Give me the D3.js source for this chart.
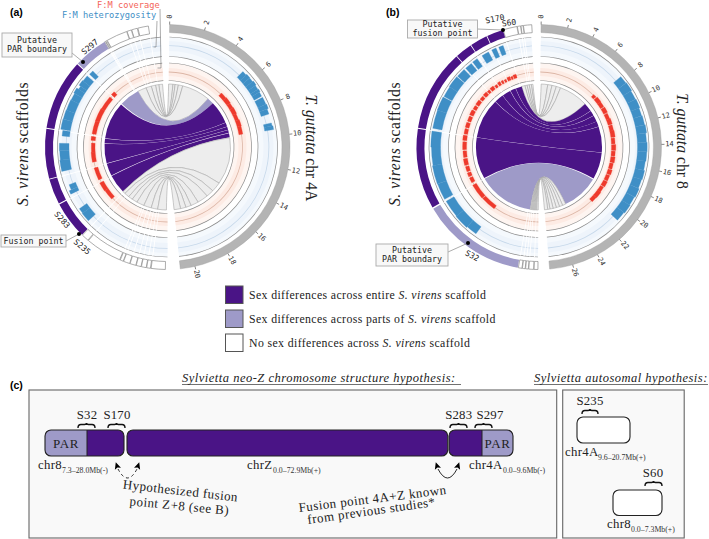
<!DOCTYPE html>
<html><head><meta charset="utf-8">
<style>html,body{margin:0;padding:0;background:#fff}svg{display:block}</style>
<script src="https://cdn.jsdelivr.net/npm/d3@7"></script></head>
<body><svg id="c" width="709" height="539" xmlns="http://www.w3.org/2000/svg"></svg>
<script>
// ---------- panel (a) : T. guttata chr 4A vs S. virens ----------
// right side positions in Mb; left side positions in assembly units; class 0 none, 1 parts, 2 entire
const chrLenA = 20.84;
const ticksA = [0,2,4,6,8,10,12,14,16,18,20];
const scaffoldsA = [[9,14,0],[14.3,17,0],[17.2,19.3,0],[19.5,29.5,0],[29.8,30.3,0],[30.5,31,0],[31,47,1],[47.5,81,2],[81.4,105,2],[105.4,117.5,2],[118,135.7,2],[136,139.5,0],[139.8,157,0],[157.3,158.8,0],[159,162,0],[162.2,165,0],[165.2,167.5,0],[167.7,170,0],[170.2,172,0],[172.3,179,0]];
const hetRightA = [[5.3,5.6,.7],[5.6,5.9,.85],[5.9,6.2,.8],[6.2,6.5,.95],[6.5,6.8,.8],[6.8,7.0,.9],[7.0,7.3,.75],[7.4,7.9,.8],[7.9,8.2,.9],[8.2,8.55,.7],[9.15,9.35,.7],[9.35,9.6,.85]];
const hetLeftA = [[44.5,47,.7],[48.5,52,.8],[52,55,.9],[55,57,.6],[57,60,.95],[60,64,.8],[64,70,.85],[70,75,.9],[75,80.5,.95],[81,84,.6],[88,92,.95],[92,97,.9],[97,103,1],[111,114,.5],[114,116,.85],[125,128,.85],[128,133,.95]];
const covRightA = [[5.3,5.9,.9],[5.9,6.5,1],[6.5,7,.9],[7,7.6,1],[7.6,8.2,.85],[8.2,8.8,1],[8.8,9.55,.9]];
const covLeftA = [[44,47,1],[49,60,.9],[60,70,1],[70,80,.95],[82,85,1],[87,94,.85],[94,101.5,.95],[106,115.6,.9],[118,125,1],[125,133,.9]];
const ribbonsA = [
 [0,.48,4.5,8,3],[.48,.72,8,11,3],[.72,1.08,11,15,3],[1.08,1.57,15,20,3],[1.57,4.7,20,28,3],
 [4.7,5.42,28,46.6,1],
 [5.42,7.95,47.5,82,2],[7.99,8.43,82.4,86.7,2],[8.47,8.8,87.1,105,2],[8.83,9.16,105.4,117,2],[9.19,9.64,117.4,135,2],
 [9.7,14.94,135,137.5,3],[14.94,16.02,137.5,142,3],[16.02,16.87,142,146,3],[16.87,18.07,146,151,3],[18.07,18.92,151,158,3],[18.92,19.52,158,165,3],[19.52,20.12,165,171,3],[20.12,20.84,171,179,3]];

// ---------- panel (b) : T. guttata chr 8 vs S. virens ----------
const chrLenB = 27.75;
const ticksB = [0,2,4,6,8,10,12,14,16,18,20,22,24,26];
const scaffoldsB = [[3.4,7.3,0],[7.5,8.5,0],[8.7,10.2,0],[10.4,17,0],[17.2,25,2],[25.4,33.6,2],[34,42,2],[42.4,81,2],[81.4,119.6,2],[120.3,170,1],[170.3,172,0],[172.2,173.5,0],[173.7,175,0],[175.2,177.5,0],[177.7,179.5,0]];
const hetRightB = [[7.7,8.4,.9],[8.4,9.2,1],[9.2,10,.85],[10,10.8,.95],[10.8,11.5,.8],[11.5,12.3,.9],[12.3,13,1],[13,13.8,.85],[13.8,14.6,.95],[14.6,15.4,.9],[15.4,16.2,.8],[16.2,17,.95],[17,17.8,.85],[17.8,18.6,1],[18.6,19.4,.85],[19.4,20.2,.95],[20.2,21.05,.8]];
const hetLeftB = [[19.5,22,.85],[23.5,26,.9],[28,32,.85],[35,38,.9],[39,43,.85],[44,49,.9],[49.5,56,.95],[56,62,.85],[62.5,70,.95],[70,80,.9],[81.5,90,.95],[90,100,.85],[100,110,.95],[110,119,.9],[120.3,130,.85],[130,138,.95],[138,144,.8]];
const covRightB = [[7.2,7.6,.8],[7.7,8.4,1],[8.4,9.1,.9],[9.2,9.9,1],[10,10.7,.85],[10.7,11.4,1],[11.5,12.2,.9],[12.2,13,1],[13.1,13.8,.85],[13.9,14.6,1],[14.7,15.3,.9],[15.4,16.1,1],[16.2,16.9,.85],[17,17.6,1],[17.7,18.4,.9],[18.5,19.2,1],[19.3,20,.85],[20,20.8,1],[20.8,21.5,.9]];
const covLeftB = [[17.5,20,.9],[20.6,22,.7],[22.6,25,.9],[26,27.5,.7],[28.5,30,.8],[31,33,.9],[34,36,.7],[37,40,.9],[41,43,.8],[43.8,47,.9],[48,51,.8],[52,56,.9],[57,60,.85],[61,65,.95],[66,70,.85],[71,75,.9],[76,80,.85],[81,85,.95],[86,92,.9],[93,98,.85],[99,104,.95],[105,109,.85],[110,113,.9],[114,118,.85],[120,132,.95],[132.5,144,.9]];
const ribbonsB = [
 [.16,1.12,5.5,7,3],[1.12,1.75,7,9,3],[1.75,2.39,9,11,3],[2.39,3.03,11,13,3],[3.03,7.34,13,16,3],
 [7.34,8.61,16,21.6,2],[8.64,9.41,21.9,27,2],[9.44,10.37,27.3,35,2],[10.4,11.16,35.3,43.7,2],[11.2,14.99,44,81,2],[15.04,18.98,81.3,119.6,2],
 [19.14,24.56,120.3,172,1],
 [24.56,25.04,172,173,3],[25.04,25.52,173,174,3],[25.52,26,174,175,3],[26,26.48,175,176,3],[26.48,26.95,176,177,3],[26.95,27.27,177,178,3],[27.27,27.75,178,179.3,3]];

// ---------- panel (c) schematic ----------
const diagramBars = [
 {start:45,end:124,row:0,split:87,side:"left"},
 {start:127,end:447.7,row:0,split:null,side:null},
 {start:449,end:513,row:0,split:482,side:"right"},
 {start:577,end:630,row:1,split:null,side:null},
 {start:613,end:662,row:2,split:null,side:null}];
const braceSpec = [["S32",78,95,0,87],["S170",108,125,0,117],["S283",450,467,0,458.7],["S297",475,492,0,490],["S235",582,598,1,590],["S60",645,662,2,653]];
const legendItems = [["Sex differences across entire ","S. virens"," scaffold",2],["Sex differences across parts of ","S. virens"," scaffold",1],["No sex differences across ","S. virens"," scaffold",0]];

const colors = {2:"#4a1486",1:"#9e9ac8",0:"#ffffff",3:"#ededed"};
const blue="#3f8fc6", red="#ee3a2c";
const mono="'DejaVu Sans Mono',monospace", serif="'Liberation Serif',serif", sans="'Liberation Sans',Arial,sans-serif";
const svg=d3.select("#c");
const rad=d=>d*Math.PI/180;
const arcGen=d3.arc();

function polar(deg,r,cx,cy){return [cx+r*Math.sin(rad(deg)),cy-r*Math.cos(rad(deg))];}

function panel(o){
 const g=svg.append("g").attr("transform",`translate(${o.cx},${o.cy})`);
 const R=d3.scaleLinear().domain([0,o.len]).range(o.rRange);       // Mb -> deg clockwise
 const L=d3.scaleLinear().domain([0,360]).range([360,0]);          // units -> deg (ccw from top)
 const ar=(a0,a1,r0,r1)=>arcGen({innerRadius:r0,outerRadius:r1,startAngle:rad(a0),endAngle:rad(a1)});
 const leftSpan=[L(o.lRange[1]),L(o.lRange[0])], rightSpan=o.rRange;
 // backgrounds
 [rightSpan,leftSpan].forEach(s=>{
  g.append("path").attr("d",ar(s[0],s[1],90.5,110)).attr("fill","#f5f9fd");
  g.append("path").attr("d",ar(s[0],s[1],96,106)).attr("fill","#eef4fb");
  g.append("path").attr("d",ar(s[0],s[1],66.5,84)).attr("fill","#fef5f1");
  g.append("path").attr("d",ar(s[0],s[1],71,79)).attr("fill","#fdebe4");
  [110,90.5,84,66.5].forEach(r=>g.append("path").attr("d",ar(s[0],s[1],r-.35,r+.35)).attr("fill","#8c8c8c"));
  g.append("path").attr("d",ar(s[0],s[1],101,101.8)).attr("fill","#c6d8ea");
  g.append("path").attr("d",ar(s[0],s[1],74.6,75.4)).attr("fill","#dcb6a6");
 });
 // white cuts between scaffolds through tracks
 o.scaffolds.forEach(d=>{g.append("path").attr("d",ar(L(d[0])-.25,L(d[0])+.25,66,110)).attr("fill","#fff");});
 // chr ring
 g.append("path").attr("d",ar(rightSpan[0],rightSpan[1],114.5,122.5)).attr("fill","#b4b4b4").attr("stroke","#999").attr("stroke-width",.4);
 o.ticks.forEach(t=>{
  const a=R(t),p0=polar(a,122.5,0,0),p1=polar(a,125.5,0,0),p2=polar(a,130.5,0,0);
  g.append("line").attr("x1",p0[0]).attr("y1",p0[1]).attr("x2",p1[0]).attr("y2",p1[1]).attr("stroke","#555").attr("stroke-width",.7);
  g.append("text").text(t).attr("font-family",mono).attr("font-size",7).attr("fill","#333").attr("text-anchor","middle").attr("dominant-baseline","central")
   .attr("transform",`translate(${p2[0]},${p2[1]}) rotate(${a-90})`);
 });
 // scaffolds
 g.selectAll(null).data(o.scaffolds).join("path").attr("d",d=>ar(L(d[1]),L(d[0]),114.5,122.5))
  .attr("fill",d=>colors[d[2]]).attr("stroke",d=>d[2]==0?"#8a8a8a":"none").attr("stroke-width",.7);
 // tracks
 const hetY=d3.scaleLinear().domain([-.6,1]).range([98.5,108.5]);
 const covY=d3.scaleLinear().domain([0,1]).range([72.5,76.8]);
 const tr=(data,a,y,base,c)=>g.selectAll(null).data(data).join("path").attr("d",d=>{const x=a(d[0]),z=a(d[1]);return ar(Math.min(x,z),Math.max(x,z),y(base),y(d[2]));}).attr("fill",c).attr("stroke",c).attr("stroke-width",.3);
 tr(o.hetR,R,hetY,-.6,blue);tr(o.hetL,L,hetY,-.6,blue);tr(o.covR,R,covY,0,red);tr(o.covL,L,covY,0,red);
 // ribbons
 const rib=d3.ribbon().radius(63);
 g.selectAll(null).data(o.ribbons).join("path")
  .attr("d",d=>rib({source:{startAngle:rad(R(d[0])),endAngle:rad(R(d[1]))},target:{startAngle:rad(L(d[3])),endAngle:rad(L(d[2]))}}))
  .attr("fill",d=>colors[d[4]])
  .attr("stroke",d=>d[4]==3?"#a8a8a8":"none")
  .attr("stroke-width",d=>d[4]==3?.6:0);
}

panel({cx:167.5,cy:147,len:chrLenA,rRange:[1,174],lRange:[3.6,180],ticks:ticksA,scaffolds:scaffoldsA,hetR:hetRightA,hetL:hetLeftA,covR:covRightA,covL:covLeftA,ribbons:ribbonsA});
panel({cx:539,cy:147,len:chrLenB,rRange:[1,175],lRange:[4,179.5],ticks:ticksB,scaffolds:scaffoldsB,hetR:hetRightB,hetL:hetLeftB,covR:covRightB,covL:covLeftB,ribbons:ribbonsB});

// panel letters
[["(a)",10,16],["(b)",386,16],["(c)",10,389]].forEach(d=>svg.append("text").text(d[0]).attr("x",d[1]).attr("y",d[2]).attr("font-family",sans).attr("font-weight","bold").attr("font-size",10.5));

// side labels
function sideText(x,y,rot,it,rest,sp){
 const t=svg.append("text").attr("transform",`translate(${x},${y}) rotate(${rot})`).attr("text-anchor","middle").attr("font-family",serif).attr("font-size",15.7).attr("letter-spacing",sp).attr("fill","#222");
 t.append("tspan").attr("font-style","italic").text(it);t.append("tspan").text(rest);
}
sideText(28,144,-90,"S. virens"," scaffolds",.55);
sideText(306,148,90,"T. guttata"," chr 4A",0);
sideText(400,144,-90,"S. virens"," scaffolds",.55);
sideText(677,141,90,"T. guttata"," chr 8",0);

// track keys
svg.append("text").text("F:M coverage").attr("x",97).attr("y",7.5).attr("font-family",mono).attr("font-size",8.7).attr("fill","#f4645a");
svg.append("text").text("F:M heterozygosity").attr("x",62).attr("y",18).attr("font-family",mono).attr("font-size",8.7).attr("fill",blue);
svg.append("path").attr("d","M157 21L156 47L153.5 47M160 9L161 68L157.5 68").attr("fill","none").attr("stroke","#777").attr("stroke-width",.6);

// callouts
function callout(x,y,w,h,lines,pts,dot){
 svg.append("path").attr("d",d3.line()(pts)).attr("stroke","#888").attr("stroke-width",.7).attr("fill","none");
 svg.append("rect").attr("x",x).attr("y",y).attr("width",w).attr("height",h).attr("fill","#f8f8f8").attr("stroke","#aaa").attr("stroke-width",.9);
 lines.forEach((l,i)=>svg.append("text").text(l).attr("x",x+w/2).attr("y",y+h/2+(i-(lines.length-1)/2)*9.2+2.8).attr("text-anchor","middle").attr("font-family",mono).attr("font-size",8.3).attr("fill","#222"));
 svg.append("circle").attr("cx",dot[0]).attr("cy",dot[1]).attr("r",2).attr("fill","#000");
}
callout(2,33,70,24,["Putative","PAR boundary"],[[72,53],[83,62]],[83,62]);
callout(1,235,65,12,["Fusion point"],[[66,241],[79,234]],[79,234]);
callout(407.5,20,70,18,["Putative","fusion point"],[[477,29],[503,30]],[503,30]);
callout(376,244,72,22,["Putative","PAR boundary"],[[448,252],[468,243]],[468,243]);
// scaffold tags
[["S297",90,47,-40],["S283",62,220,48],["S235",82,247,40],["S170",495,19,-12],["S60",509,23,-8],["S32",472,256,28]].forEach(d=>
 svg.append("text").text(d[0]).attr("transform",`translate(${d[1]},${d[2]}) rotate(${d[3]})`).attr("text-anchor","middle").attr("dominant-baseline","central").attr("font-family",mono).attr("font-size",8).attr("fill","#222"));

// legend
const legY=d3.scalePoint().domain([0,1,2]).range([286,334]);
legendItems.forEach((d,i)=>{
 svg.append("rect").attr("x",225.5).attr("y",legY(i)).attr("width",17.5).attr("height",17.5).attr("fill",colors[d[3]]).attr("stroke","#555").attr("stroke-width",1);
 const t=svg.append("text").attr("x",249).attr("y",legY(i)+13).attr("font-family",serif).attr("font-size",11.8).attr("letter-spacing",.38).attr("fill","#222");
 t.append("tspan").text(d[0]);t.append("tspan").attr("font-style","italic").text(d[1]);t.append("tspan").text(d[2]);
});

// panel (c)
function underlined(s,x,y,w){
 svg.append("text").text(s).attr("x",x).attr("y",y).attr("font-family",serif).attr("font-style","italic").attr("font-size",12.5).attr("letter-spacing",.5).attr("fill","#222");
 svg.append("line").attr("x1",x).attr("x2",x+w).attr("y1",y+2.5).attr("y2",y+2.5).attr("stroke","#333").attr("stroke-width",.7);
}
underlined("Sylvietta neo-Z chromosome structure hypothesis:",182,382,279);
underlined("Sylvietta autosomal hypothesis:",534,382,174);
[[29,390,527.7,148],[562.7,390,121.5,148]].forEach(b=>svg.append("rect").attr("x",b[0]).attr("y",b[1]).attr("width",b[2]).attr("height",b[3]).attr("fill","#f9f9f9").attr("stroke","#666").attr("stroke-width",1.1));
const rowY=[[430,456],[417,443],[490,515.5]];
const X=d3.scaleLinear().domain([0,709]).range([0,709]);
diagramBars.forEach((b,i)=>{
 const y=rowY[b.row],id="cl"+i,x0=X(b.start),x1=X(b.end);
 svg.append("clipPath").attr("id",id).append("rect").attr("x",x0).attr("y",y[0]).attr("width",x1-x0).attr("height",y[1]-y[0]).attr("rx",6);
 const base=b.row?colors[0]:colors[2];
 const g=svg.append("g").attr("clip-path",`url(#${id})`);
 g.append("rect").attr("x",x0).attr("y",y[0]).attr("width",x1-x0).attr("height",y[1]-y[0]).attr("fill",base);
 if(b.split){
  const s=X(b.split);
  const px=b.side=="left"?x0:s,pw=b.side=="left"?s-x0:x1-s;
  g.append("rect").attr("x",px).attr("y",y[0]).attr("width",pw).attr("height",y[1]-y[0]).attr("fill",colors[1]);
  g.append("line").attr("x1",s).attr("x2",s).attr("y1",y[0]).attr("y2",y[1]).attr("stroke","#222").attr("stroke-width",1);
  svg.append("text").text("PAR").attr("x",(px+px+pw)/2).attr("y",y[0]+18).attr("text-anchor","middle").attr("font-family",serif).attr("font-size",13).attr("letter-spacing",.6).attr("fill","#222");
 }
 svg.append("rect").attr("x",x0).attr("y",y[0]).attr("width",x1-x0).attr("height",y[1]-y[0]).attr("rx",6).attr("fill","none").attr("stroke","#222").attr("stroke-width",1.1);
});
const braceY=[[428,423],[414,409],[486,481]];
braceSpec.forEach(d=>{
 const y=braceY[d[3]],x0=X(d[1]),x1=X(d[2]),m=(x0+x1)/2,q=y[1]+1.5;
 svg.append("path").attr("d",`M${x0} ${y[0]}Q${x0} ${q} ${x0+3} ${q}L${m-2} ${q}Q${m} ${q} ${m} ${y[1]}Q${m} ${q} ${m+2} ${q}L${x1-3} ${q}Q${x1} ${q} ${x1} ${y[0]}`).attr("fill","none").attr("stroke","#111").attr("stroke-width",1.4);
 svg.append("text").text(d[0]).attr("x",X(d[4])).attr("y",y[1]-4).attr("text-anchor","middle").attr("font-family",serif).attr("font-size",12.8).attr("letter-spacing",.2).attr("fill","#222");
});
function chrLabel(name,sub,x,y,sx){
 svg.append("text").text(name).attr("x",x).attr("y",y).attr("font-family",serif).attr("font-size",12.8).attr("letter-spacing",.3).attr("fill","#222");
 svg.append("text").text(sub).attr("x",sx).attr("y",y+4).attr("font-family",serif).attr("font-size",7.8).attr("fill","#333");
}
chrLabel("chr8","7.3–28.0Mb(-)",38,469,62);
chrLabel("chrZ","0.0–72.9Mb(+)",247,469,273);
chrLabel("chr4A","0.0–9.6Mb(-)",469,469,503);
chrLabel("chr4A","9.6–20.7Mb(+)",565,456,598);
chrLabel("chr8","0.0–7.3Mb(+)",607,528,631);
// arrows
function curved(x0,x1,y,dy,dash){
 svg.append("path").attr("d",`M${x0+1} ${y+3}Q${(x0+x1)/2} ${y+dy} ${x1-1} ${y+3}`).attr("fill","none").attr("stroke","#111").attr("stroke-width",.9).attr("stroke-dasharray",dash?"3 3":null);
 [[x0,-18],[x1,18]].forEach(a=>svg.append("path").attr("d","M0 -4L3.2 3L0 1.6L-3.2 3Z").attr("transform",`translate(${a[0]},${y}) rotate(${a[1]})`).attr("fill","#000"));
}
curved(117,138,466,21,true);
curved(437,458,466,21,false);
[["Hypothesized fusion",180,495,6.5],["point Z+8 (see B)",179,510,5.5],["Fusion point 4A+Z known",373,503,-7],["from previous studies*",372,515,-8]].forEach(d=>
 svg.append("text").text(d[0]).attr("transform",`translate(${d[1]},${d[2]}) rotate(${d[3]})`).attr("text-anchor","middle").attr("font-family",serif).attr("font-size",13).attr("letter-spacing",.45).attr("fill","#222"));
</script></body></html>
